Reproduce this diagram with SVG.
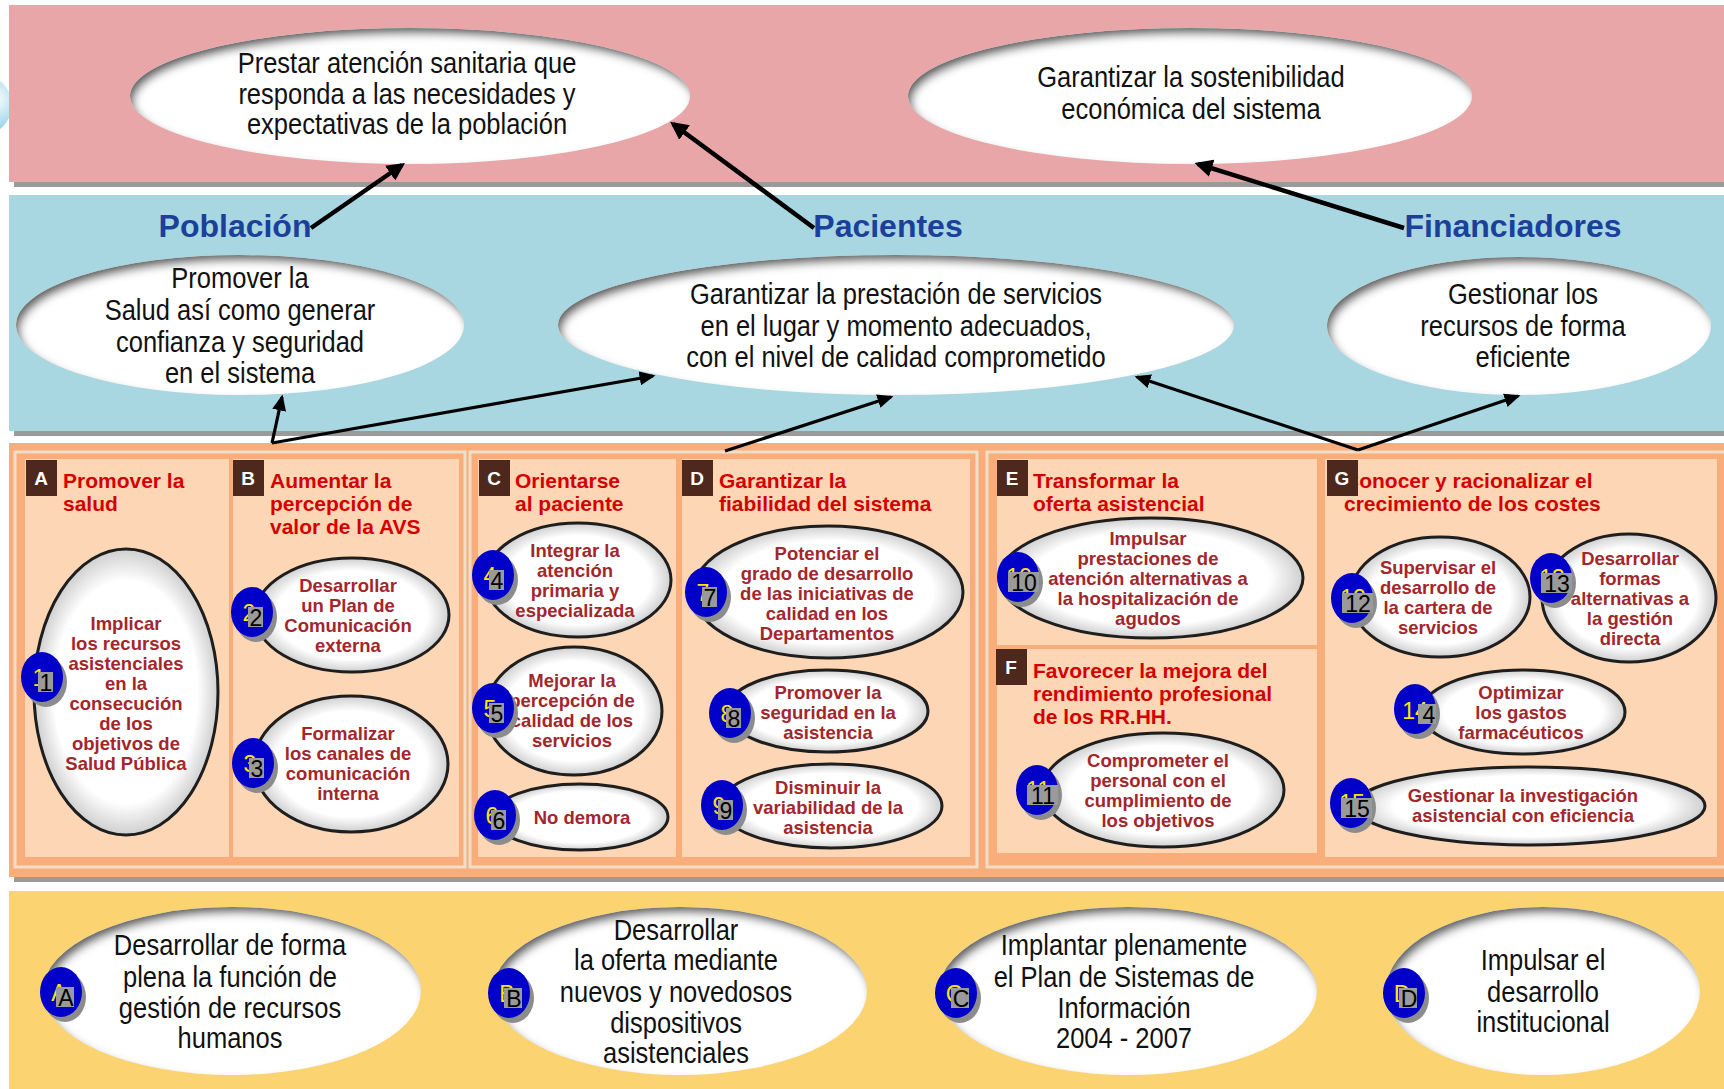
<svg xmlns="http://www.w3.org/2000/svg" width="1724" height="1089" viewBox="0 0 1724 1089">
  <defs>
    <style>
      .big { font-family: 'Liberation Sans', Arial, sans-serif; font-size: 30px; fill: #111; text-anchor: middle; }
      .stake { font-family: 'Liberation Sans', Arial, sans-serif; font-weight: bold; font-size: 32px; fill: #1B3F9A; text-anchor: middle; }
      .title { font-family: 'Liberation Sans', Arial, sans-serif; font-weight: bold; font-size: 21px; fill: #D40000; }
      .node { font-family: 'Liberation Sans', Arial, sans-serif; font-weight: bold; font-size: 18.5px; fill: #A3262B; text-anchor: middle; }
      .letter { font-family: 'Liberation Sans', Arial, sans-serif; font-weight: bold; font-size: 19px; fill: #fff; text-anchor: middle; }
      .num { font-family: 'Liberation Sans', Arial, sans-serif; font-size: 23px; fill: #000; text-anchor: middle; }
      .numy { font-family: 'Liberation Sans', Arial, sans-serif; font-size: 23px; fill: #FFE600; text-anchor: middle; }
      .goal { fill: #fff; filter: url(#inset); }
      .obj { fill: url(#objFill); stroke: #1e1e1e; stroke-width: 3; }
      .lbox { fill: #4E281D; }
      .sub { fill: #FDD6B5; }
      .frame { fill: none; stroke: #EFDFC8; stroke-width: 3; }
      .shadow { fill: #9a9a9a; }
      .disc { fill: #0000C8; }
      .dshadow { fill: #8c8c8c; }
      .nbox { fill: #9a9a9a; }
      .arrow { fill: none; stroke: #000; stroke-width: 4.5; marker-end: url(#head); }
      .arrow2 { fill: none; stroke: #000; stroke-width: 3.2; marker-end: url(#head2); }
    </style>
    <filter id="inset" x="-5%" y="-10%" width="110%" height="120%">
      <feComponentTransfer in="SourceAlpha" result="inv">
        <feFuncA type="table" tableValues="1 0"/>
      </feComponentTransfer>
      <feGaussianBlur in="inv" stdDeviation="4"/>
      <feOffset dx="4" dy="6" result="off"/>
      <feFlood flood-color="#4a4a4a" flood-opacity="0.95"/>
      <feComposite in2="off" operator="in"/>
      <feComposite in2="SourceAlpha" operator="in" result="sh"/>
      <feMerge>
        <feMergeNode in="SourceGraphic"/>
        <feMergeNode in="sh"/>
      </feMerge>
    </filter>
    <radialGradient id="objFill" cx="0.5" cy="0.5" r="0.5">
      <stop offset="0.78" stop-color="#ffffff"/>
      <stop offset="1" stop-color="#cfcfcf"/>
    </radialGradient>
    <radialGradient id="bubble" cx="0.7" cy="0.4" r="0.6">
      <stop offset="0" stop-color="#ffffff"/>
      <stop offset="1" stop-color="#86cde6"/>
    </radialGradient>
    <marker id="head" markerWidth="4" markerHeight="4" refX="3.2" refY="2" orient="auto" markerUnits="strokeWidth">
      <path d="M0,0 L4,2 L0,4 Z" fill="#000"/>
    </marker>
    <marker id="head2" markerWidth="5" markerHeight="4.4" refX="4.2" refY="2.2" orient="auto" markerUnits="strokeWidth">
      <path d="M0,0 L5,2.2 L0,4.4 Z" fill="#000"/>
    </marker>
  </defs>

  <rect width="1724" height="1089" fill="#fff"/>

  <!-- background bands -->
  <g id="bands">
    <circle cx="-18" cy="105" r="30" fill="url(#bubble)"/>
    <rect class="shadow" x="14" y="181" width="1710" height="6"/>
    <rect x="9" y="5" width="1715" height="177" fill="#E8A6A8"/>
    <rect class="shadow" x="14" y="430" width="1710" height="6"/>
    <rect x="9" y="195" width="1715" height="236" fill="#A8D6E1"/>
    <rect class="shadow" x="14" y="876" width="1710" height="6"/>
    <rect x="9" y="443" width="1715" height="434" fill="#F9AD7B"/>
    <rect x="9" y="891" width="1715" height="198" fill="#FBD471"/>
  </g>

  <!-- panel frames and sub-panels -->
  <g id="panels">
    <rect class="frame" x="15" y="452" width="450" height="415"/>
    <rect class="frame" x="470" y="452" width="507" height="415"/>
    <rect class="frame" x="987" y="452" width="740" height="415"/>
    <rect class="sub" x="25" y="459" width="204" height="398"/>
    <rect class="sub" x="233" y="459" width="226" height="398"/>
    <rect class="sub" x="478" y="459" width="198" height="398"/>
    <rect class="sub" x="682" y="459" width="288" height="398"/>
    <rect class="sub" x="997" y="459" width="320" height="186"/>
    <rect class="sub" x="997" y="649" width="320" height="204"/>
    <rect class="sub" x="1325" y="459" width="392" height="398"/>
  </g>

  <!-- strategic goals -->
  <g id="goal-atencion">
    <ellipse class="goal" cx="410" cy="96" rx="280" ry="68"/>
    <g transform="translate(407 0) scale(0.85 1)">
      <text class="big" x="0" y="73">Prestar atención sanitaria que</text>
      <text class="big" x="0" y="104">responda a las necesidades y</text>
      <text class="big" x="0" y="134">expectativas de la población</text>
    </g>
  </g>
  <g id="goal-sostenibilidad">
    <ellipse class="goal" cx="1190" cy="96" rx="282" ry="68"/>
    <g transform="translate(1191 0) scale(0.85 1)">
      <text class="big" x="0" y="87">Garantizar la sostenibilidad</text>
      <text class="big" x="0" y="119">económica del sistema</text>
    </g>
  </g>

  <!-- stakeholders -->
  <g id="stakeholders">
    <text class="stake" x="235" y="237">Población</text>
    <text class="stake" x="888" y="237">Pacientes</text>
    <text class="stake" x="1513" y="237">Financiadores</text>
  </g>

  <!-- stakeholder goals -->
  <g id="goal-poblacion">
    <ellipse class="goal" cx="240" cy="325" rx="224" ry="70"/>
    <g transform="translate(240 0) scale(0.85 1)">
      <text class="big" x="0" y="288">Promover la</text>
      <text class="big" x="0" y="320">Salud así como generar</text>
      <text class="big" x="0" y="352">confianza y seguridad</text>
      <text class="big" x="0" y="383">en el sistema</text>
    </g>
  </g>
  <g id="goal-pacientes">
    <ellipse class="goal" cx="896" cy="325" rx="338" ry="70"/>
    <g transform="translate(896 0) scale(0.85 1)">
      <text class="big" x="0" y="304">Garantizar la prestación de servicios</text>
      <text class="big" x="0" y="336">en el lugar y momento adecuados,</text>
      <text class="big" x="0" y="367">con el nivel de calidad comprometido</text>
    </g>
  </g>
  <g id="goal-financiadores">
    <ellipse class="goal" cx="1519" cy="326" rx="192" ry="69"/>
    <g transform="translate(1523 0) scale(0.85 1)">
      <text class="big" x="0" y="304">Gestionar los</text>
      <text class="big" x="0" y="336">recursos de forma</text>
      <text class="big" x="0" y="367">eficiente</text>
    </g>
  </g>

  <!-- connectors -->
  <g id="connectors">
    <path class="arrow" d="M311,228 L402,165"/>
    <path class="arrow" d="M814,228 L673,124"/>
    <path class="arrow" d="M1404,228 L1198,164"/>
    <path class="arrow2" d="M272,443 L282,397"/>
    <path class="arrow2" d="M272,443 L653,376"/>
    <path class="arrow2" d="M725,451 L891,397"/>
    <path class="arrow2" d="M1358,450 L1137,377"/>
    <path class="arrow2" d="M1358,450 L1518,396"/>
  </g>

  <!-- line titles -->
  <g id="line-A">
    <rect class="lbox" x="26" y="460" width="31" height="36"/>
    <text class="letter" x="41" y="485">A</text>
    <text class="title" x="63" y="488">Promover la</text>
    <text class="title" x="63" y="511">salud</text>
  </g>
  <g id="line-B">
    <rect class="lbox" x="233" y="460" width="31" height="36"/>
    <text class="letter" x="248" y="485">B</text>
    <text class="title" x="270" y="488">Aumentar la</text>
    <text class="title" x="270" y="511">percepción de</text>
    <text class="title" x="270" y="534">valor de la AVS</text>
  </g>
  <g id="line-C">
    <rect class="lbox" x="479" y="460" width="31" height="36"/>
    <text class="letter" x="494" y="485">C</text>
    <text class="title" x="515" y="488">Orientarse</text>
    <text class="title" x="515" y="511">al paciente</text>
  </g>
  <g id="line-D">
    <rect class="lbox" x="682" y="460" width="31" height="36"/>
    <text class="letter" x="697" y="485">D</text>
    <text class="title" x="719" y="488">Garantizar la</text>
    <text class="title" x="719" y="511">fiabilidad del sistema</text>
  </g>
  <g id="line-E">
    <rect class="lbox" x="997" y="460" width="31" height="36"/>
    <text class="letter" x="1012" y="485">E</text>
    <text class="title" x="1033" y="488">Transformar la</text>
    <text class="title" x="1033" y="511">oferta asistencial</text>
  </g>
  <g id="line-F">
    <rect class="lbox" x="996" y="649" width="31" height="36"/>
    <text class="letter" x="1011" y="674">F</text>
    <text class="title" x="1033" y="678">Favorecer la mejora del</text>
    <text class="title" x="1033" y="701">rendimiento profesional</text>
    <text class="title" x="1033" y="724">de los RR.HH.</text>
  </g>
  <g id="line-G">
    <text class="title" x="1344" y="488">Conocer y racionalizar el</text>
    <text class="title" x="1344" y="511">crecimiento de los costes</text>
    <rect class="lbox" x="1327" y="460" width="31" height="36"/>
    <text class="letter" x="1342" y="485">G</text>
  </g>

  <!-- objectives -->
  <g id="obj-1">
    <ellipse class="obj" cx="126" cy="692" rx="92" ry="143"/>
    <text class="node" x="126" y="630">Implicar</text>
    <text class="node" x="126" y="650">los recursos</text>
    <text class="node" x="126" y="670">asistenciales</text>
    <text class="node" x="126" y="690">en la</text>
    <text class="node" x="126" y="710">consecución</text>
    <text class="node" x="126" y="730">de los</text>
    <text class="node" x="126" y="750">objetivos de</text>
    <text class="node" x="126" y="770">Salud Pública</text>
    <ellipse class="dshadow" cx="46" cy="682" rx="21" ry="25"/>
    <ellipse class="disc" cx="42" cy="677" rx="21" ry="25"/>
    <text class="numy" x="39" y="686">1</text>
    <rect class="nbox" x="38" y="672" width="15" height="20"/>
    <text class="num" x="46" y="691">1</text>
  </g>
  <g id="obj-2">
    <ellipse class="obj" cx="352" cy="615" rx="97" ry="57"/>
    <text class="node" x="348" y="592">Desarrollar</text>
    <text class="node" x="348" y="612">un Plan de</text>
    <text class="node" x="348" y="632">Comunicación</text>
    <text class="node" x="348" y="652">externa</text>
    <ellipse class="dshadow" cx="256" cy="617" rx="21" ry="25"/>
    <ellipse class="disc" cx="252" cy="612" rx="21" ry="25"/>
    <text class="numy" x="249" y="621">2</text>
    <rect class="nbox" x="248" y="607" width="15" height="20"/>
    <text class="num" x="256" y="626">2</text>
  </g>
  <g id="obj-3">
    <ellipse class="obj" cx="351" cy="764" rx="97" ry="68"/>
    <text class="node" x="348" y="740">Formalizar</text>
    <text class="node" x="348" y="760">los canales de</text>
    <text class="node" x="348" y="780">comunicación</text>
    <text class="node" x="348" y="800">interna</text>
    <ellipse class="dshadow" cx="257" cy="768" rx="21" ry="25"/>
    <ellipse class="disc" cx="253" cy="763" rx="21" ry="25"/>
    <text class="numy" x="250" y="772">3</text>
    <rect class="nbox" x="249" y="758" width="15" height="20"/>
    <text class="num" x="257" y="777">3</text>
  </g>
  <g id="obj-4">
    <ellipse class="obj" cx="578" cy="580" rx="93" ry="57"/>
    <text class="node" x="575" y="557">Integrar la</text>
    <text class="node" x="575" y="577">atención</text>
    <text class="node" x="575" y="597">primaria y</text>
    <text class="node" x="575" y="617">especializada</text>
    <ellipse class="dshadow" cx="497" cy="580" rx="21" ry="25"/>
    <ellipse class="disc" cx="493" cy="575" rx="21" ry="25"/>
    <text class="numy" x="490" y="584">4</text>
    <rect class="nbox" x="489" y="570" width="15" height="20"/>
    <text class="num" x="497" y="589">4</text>
  </g>
  <g id="obj-5">
    <ellipse class="obj" cx="574" cy="711" rx="88" ry="64"/>
    <text class="node" x="572" y="687">Mejorar la</text>
    <text class="node" x="572" y="707">percepción de</text>
    <text class="node" x="572" y="727">calidad de los</text>
    <text class="node" x="572" y="747">servicios</text>
    <ellipse class="dshadow" cx="497" cy="713" rx="21" ry="25"/>
    <ellipse class="disc" cx="493" cy="708" rx="21" ry="25"/>
    <text class="numy" x="490" y="717">5</text>
    <rect class="nbox" x="489" y="703" width="15" height="20"/>
    <text class="num" x="497" y="722">5</text>
  </g>
  <g id="obj-6">
    <ellipse class="obj" cx="580" cy="817" rx="88" ry="33"/>
    <text class="node" x="582" y="824">No demora</text>
    <ellipse class="dshadow" cx="499" cy="820" rx="21" ry="25"/>
    <ellipse class="disc" cx="495" cy="815" rx="21" ry="25"/>
    <text class="numy" x="492" y="824">6</text>
    <rect class="nbox" x="491" y="810" width="15" height="20"/>
    <text class="num" x="499" y="829">6</text>
  </g>
  <g id="obj-7">
    <ellipse class="obj" cx="828" cy="592" rx="135" ry="66"/>
    <text class="node" x="827" y="560">Potenciar el</text>
    <text class="node" x="827" y="580">grado de desarrollo</text>
    <text class="node" x="827" y="600">de las iniciativas de</text>
    <text class="node" x="827" y="620">calidad en los</text>
    <text class="node" x="827" y="640">Departamentos</text>
    <ellipse class="dshadow" cx="710" cy="597" rx="21" ry="25"/>
    <ellipse class="disc" cx="706" cy="592" rx="21" ry="25"/>
    <text class="numy" x="703" y="601">7</text>
    <rect class="nbox" x="702" y="587" width="15" height="20"/>
    <text class="num" x="710" y="606">7</text>
  </g>
  <g id="obj-8">
    <ellipse class="obj" cx="827" cy="711" rx="101" ry="41"/>
    <text class="node" x="828" y="699">Promover la</text>
    <text class="node" x="828" y="719">seguridad en la</text>
    <text class="node" x="828" y="739">asistencia</text>
    <ellipse class="dshadow" cx="734" cy="718" rx="21" ry="25"/>
    <ellipse class="disc" cx="730" cy="713" rx="21" ry="25"/>
    <text class="numy" x="727" y="722">8</text>
    <rect class="nbox" x="726" y="708" width="15" height="20"/>
    <text class="num" x="734" y="727">8</text>
  </g>
  <g id="obj-9">
    <ellipse class="obj" cx="831" cy="806" rx="111" ry="42"/>
    <text class="node" x="828" y="794">Disminuir la</text>
    <text class="node" x="828" y="814">variabilidad de la</text>
    <text class="node" x="828" y="834">asistencia</text>
    <ellipse class="dshadow" cx="726" cy="810" rx="21" ry="25"/>
    <ellipse class="disc" cx="722" cy="805" rx="21" ry="25"/>
    <text class="numy" x="719" y="814">9</text>
    <rect class="nbox" x="718" y="800" width="15" height="20"/>
    <text class="num" x="726" y="819">9</text>
  </g>
  <g id="obj-10">
    <ellipse class="obj" cx="1151" cy="578" rx="152" ry="60"/>
    <text class="node" x="1148" y="545">Impulsar</text>
    <text class="node" x="1148" y="565">prestaciones de</text>
    <text class="node" x="1148" y="585">atención alternativas a</text>
    <text class="node" x="1148" y="605">la hospitalización de</text>
    <text class="node" x="1148" y="625">agudos</text>
    <ellipse class="dshadow" cx="1022" cy="582" rx="21" ry="25"/>
    <ellipse class="disc" cx="1018" cy="577" rx="21" ry="25"/>
    <text class="numy" x="1019" y="585">10</text>
    <rect class="nbox" x="1008" y="572" width="31" height="20"/>
    <text class="num" x="1024" y="591">10</text>
  </g>
  <g id="obj-11">
    <ellipse class="obj" cx="1163" cy="790" rx="121" ry="57"/>
    <text class="node" x="1158" y="767">Comprometer el</text>
    <text class="node" x="1158" y="787">personal con el</text>
    <text class="node" x="1158" y="807">cumplimiento de</text>
    <text class="node" x="1158" y="827">los objetivos</text>
    <ellipse class="dshadow" cx="1041" cy="795" rx="21" ry="25"/>
    <ellipse class="disc" cx="1037" cy="790" rx="21" ry="25"/>
    <text class="numy" x="1038" y="798">11</text>
    <rect class="nbox" x="1027" y="785" width="31" height="20"/>
    <text class="num" x="1043" y="804">11</text>
  </g>
  <g id="obj-12">
    <ellipse class="obj" cx="1440" cy="597" rx="90" ry="60"/>
    <text class="node" x="1438" y="574">Supervisar el</text>
    <text class="node" x="1438" y="594">desarrollo de</text>
    <text class="node" x="1438" y="614">la cartera de</text>
    <text class="node" x="1438" y="634">servicios</text>
    <ellipse class="dshadow" cx="1356" cy="603" rx="21" ry="25"/>
    <ellipse class="disc" cx="1352" cy="598" rx="21" ry="25"/>
    <text class="numy" x="1353" y="606">12</text>
    <rect class="nbox" x="1342" y="593" width="31" height="20"/>
    <text class="num" x="1358" y="612">12</text>
  </g>
  <g id="obj-13">
    <ellipse class="obj" cx="1629" cy="598" rx="87" ry="64"/>
    <text class="node" x="1630" y="565">Desarrollar</text>
    <text class="node" x="1630" y="585">formas</text>
    <text class="node" x="1630" y="605">alternativas a</text>
    <text class="node" x="1630" y="625">la gestión</text>
    <text class="node" x="1630" y="645">directa</text>
    <ellipse class="dshadow" cx="1555" cy="583" rx="21" ry="25"/>
    <ellipse class="disc" cx="1551" cy="578" rx="21" ry="25"/>
    <text class="numy" x="1552" y="586">13</text>
    <rect class="nbox" x="1541" y="573" width="31" height="20"/>
    <text class="num" x="1557" y="592">13</text>
  </g>
  <g id="obj-14">
    <ellipse class="obj" cx="1523" cy="712" rx="102" ry="42"/>
    <text class="node" x="1521" y="699">Optimizar</text>
    <text class="node" x="1521" y="719">los gastos</text>
    <text class="node" x="1521" y="739">farmacéuticos</text>
    <ellipse class="dshadow" cx="1419" cy="714" rx="21" ry="25"/>
    <ellipse class="disc" cx="1415" cy="709" rx="21" ry="25"/>
    <text class="numy" x="1415" y="719">14</text>
    <rect class="nbox" x="1418" y="704" width="18" height="20"/>
    <text class="num" x="1429" y="723">4</text>
  </g>
  <g id="obj-15">
    <ellipse class="obj" cx="1530" cy="806" rx="175" ry="39"/>
    <text class="node" x="1523" y="802">Gestionar la investigación</text>
    <text class="node" x="1523" y="822">asistencial con eficiencia</text>
    <ellipse class="dshadow" cx="1355" cy="808" rx="21" ry="25"/>
    <ellipse class="disc" cx="1351" cy="803" rx="21" ry="25"/>
    <text class="numy" x="1352" y="811">15</text>
    <rect class="nbox" x="1341" y="798" width="31" height="20"/>
    <text class="num" x="1357" y="817">15</text>
  </g>

  <!-- supporting lines -->
  <g id="support-A">
    <ellipse class="goal" cx="232" cy="991" rx="189" ry="84"/>
    <g transform="translate(230 0) scale(0.85 1)">
      <text class="big" x="0" y="955">Desarrollar de forma</text>
      <text class="big" x="0" y="987">plena la función de</text>
      <text class="big" x="0" y="1018">gestión de recursos</text>
      <text class="big" x="0" y="1048">humanos</text>
    </g>
    <ellipse class="dshadow" cx="65" cy="997" rx="21" ry="25"/>
    <ellipse class="disc" cx="61" cy="992" rx="21" ry="25"/>
    <text class="numy" x="59" y="1001">A</text>
    <rect class="nbox" x="56" y="987" width="18" height="20"/>
    <text class="num" x="66" y="1006">A</text>
  </g>
  <g id="support-B">
    <ellipse class="goal" cx="680" cy="991" rx="187" ry="84"/>
    <g transform="translate(676 0) scale(0.85 1)">
      <text class="big" x="0" y="940">Desarrollar</text>
      <text class="big" x="0" y="970">la oferta mediante</text>
      <text class="big" x="0" y="1002">nuevos y novedosos</text>
      <text class="big" x="0" y="1033">dispositivos</text>
      <text class="big" x="0" y="1063">asistenciales</text>
    </g>
    <ellipse class="dshadow" cx="513" cy="998" rx="21" ry="25"/>
    <ellipse class="disc" cx="509" cy="993" rx="21" ry="25"/>
    <text class="numy" x="507" y="1002">B</text>
    <rect class="nbox" x="504" y="988" width="18" height="20"/>
    <text class="num" x="514" y="1007">B</text>
  </g>
  <g id="support-C">
    <ellipse class="goal" cx="1128" cy="991" rx="189" ry="84"/>
    <g transform="translate(1124 0) scale(0.85 1)">
      <text class="big" x="0" y="955">Implantar plenamente</text>
      <text class="big" x="0" y="987">el Plan de Sistemas de</text>
      <text class="big" x="0" y="1018">Información</text>
      <text class="big" x="0" y="1048">2004 - 2007</text>
    </g>
    <ellipse class="dshadow" cx="960" cy="998" rx="21" ry="25"/>
    <ellipse class="disc" cx="956" cy="993" rx="21" ry="25"/>
    <text class="numy" x="954" y="1002">C</text>
    <rect class="nbox" x="951" y="988" width="18" height="20"/>
    <text class="num" x="961" y="1007">C</text>
  </g>
  <g id="support-D">
    <ellipse class="goal" cx="1543" cy="991" rx="157" ry="84"/>
    <g transform="translate(1543 0) scale(0.85 1)">
      <text class="big" x="0" y="970">Impulsar el</text>
      <text class="big" x="0" y="1002">desarrollo</text>
      <text class="big" x="0" y="1032">institucional</text>
    </g>
    <ellipse class="dshadow" cx="1408" cy="998" rx="21" ry="25"/>
    <ellipse class="disc" cx="1404" cy="993" rx="21" ry="25"/>
    <text class="numy" x="1402" y="1002">D</text>
    <rect class="nbox" x="1399" y="988" width="18" height="20"/>
    <text class="num" x="1409" y="1007">D</text>
  </g>
</svg>
